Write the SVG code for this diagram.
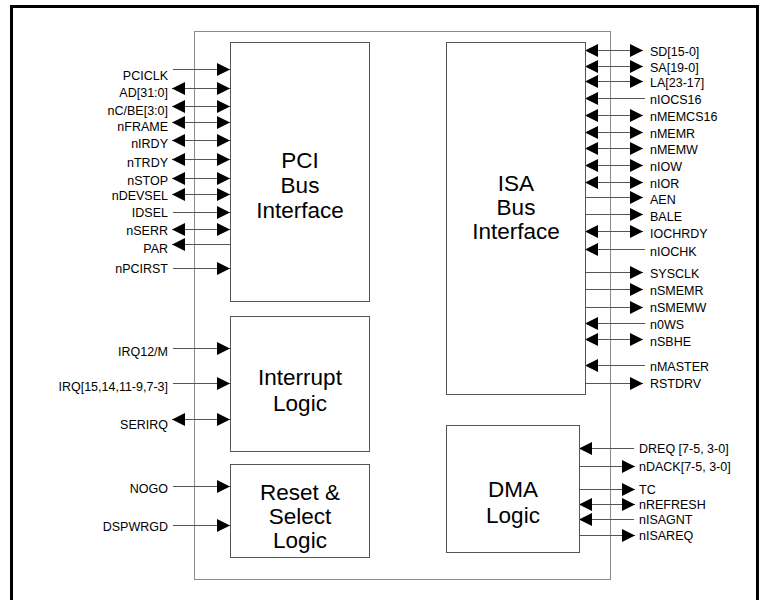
<svg xmlns="http://www.w3.org/2000/svg" width="768" height="600" viewBox="0 0 768 600">
<defs>
<style>
.frame{fill:none;stroke:#000;stroke-width:3}
.chip{fill:#fff;stroke:#8a8a8a;stroke-width:1}
.blk{fill:#fff;stroke:#555;stroke-width:1}
.title{font-family:"Liberation Sans",Arial,sans-serif;font-size:22.5px;fill:#000;text-anchor:middle}
.sig{font-family:"Liberation Sans",Arial,sans-serif;font-size:12.5px;fill:#000}
.l{text-anchor:end}
.r{text-anchor:start}
.w{stroke:#555;stroke-width:1;fill:none}
.in{marker-end:url(#ah)}
.bi{marker-start:url(#ah);marker-end:url(#ah)}
</style>
<marker id="ah" markerUnits="userSpaceOnUse" markerWidth="14" markerHeight="14" refX="13" refY="7" orient="auto-start-reverse" viewBox="0 0 14 14">
<path d="M0,0.5 L13,7 L0,13.5 Z" fill="#000"/>
</marker>
</defs>
<rect width="768" height="600" fill="#fff"/>
<rect class="frame" x="11.5" y="6.5" width="746" height="610"/>
<g id="chip"><rect class="chip" x="194.5" y="31.5" width="416" height="548"/></g>

<g id="connectors">
<!-- PCI -->
<line class="w in" x1="173" y1="69.5" x2="230" y2="69.5"/>
<line class="w bi" x1="172" y1="88.5" x2="230" y2="88.5"/>
<line class="w bi" x1="172" y1="106.5" x2="230" y2="106.5"/>
<line class="w bi" x1="172" y1="122.5" x2="230" y2="122.5"/>
<line class="w bi" x1="172" y1="140.5" x2="230" y2="140.5"/>
<line class="w bi" x1="172" y1="159.5" x2="230" y2="159.5"/>
<line class="w bi" x1="172" y1="178.5" x2="230" y2="178.5"/>
<line class="w bi" x1="172" y1="194.5" x2="230" y2="194.5"/>
<line class="w in" x1="173" y1="212.5" x2="230" y2="212.5"/>
<line class="w bi" x1="172" y1="229.5" x2="230" y2="229.5"/>
<line class="w in" x1="230" y1="244.5" x2="172" y2="244.5"/>
<line class="w in" x1="173" y1="268.5" x2="230" y2="268.5"/>
<!-- Interrupt -->
<line class="w in" x1="173" y1="348.5" x2="230" y2="348.5"/>
<line class="w in" x1="173" y1="383.5" x2="230" y2="383.5"/>
<line class="w bi" x1="172" y1="419.5" x2="230" y2="419.5"/>
<!-- Reset -->
<line class="w in" x1="173" y1="486.5" x2="230" y2="486.5"/>
<line class="w in" x1="173" y1="525.5" x2="230" y2="525.5"/>
<!-- ISA -->
<line class="w bi" x1="585" y1="50.5" x2="643" y2="50.5"/>
<line class="w bi" x1="585" y1="66.5" x2="643" y2="66.5"/>
<line class="w bi" x1="585" y1="81.5" x2="643" y2="81.5"/>
<line class="w in" x1="645" y1="98.5" x2="585" y2="98.5"/>
<line class="w bi" x1="585" y1="115.5" x2="643" y2="115.5"/>
<line class="w bi" x1="585" y1="132.5" x2="643" y2="132.5"/>
<line class="w bi" x1="585" y1="148.5" x2="643" y2="148.5"/>
<line class="w bi" x1="585" y1="165.5" x2="643" y2="165.5"/>
<line class="w bi" x1="585" y1="182.5" x2="643" y2="182.5"/>
<line class="w in" x1="585" y1="197.5" x2="643" y2="197.5"/>
<line class="w in" x1="585" y1="214.5" x2="643" y2="214.5"/>
<line class="w bi" x1="585" y1="231.5" x2="643" y2="231.5"/>
<line class="w in" x1="645" y1="249.5" x2="585" y2="249.5"/>
<line class="w in" x1="585" y1="272.5" x2="643" y2="272.5"/>
<line class="w in" x1="585" y1="289.5" x2="643" y2="289.5"/>
<line class="w in" x1="585" y1="307.5" x2="643" y2="307.5"/>
<line class="w in" x1="645" y1="323.5" x2="585" y2="323.5"/>
<line class="w bi" x1="585" y1="339.5" x2="643" y2="339.5"/>
<line class="w in" x1="645" y1="365.5" x2="585" y2="365.5"/>
<line class="w in" x1="585" y1="383.5" x2="643" y2="383.5"/>
<!-- DMA -->
<line class="w in" x1="634" y1="448.5" x2="579" y2="448.5"/>
<line class="w in" x1="579" y1="466.5" x2="635" y2="466.5"/>
<line class="w in" x1="579" y1="489.5" x2="635" y2="489.5"/>
<line class="w bi" x1="579" y1="504.5" x2="635" y2="504.5"/>
<line class="w in" x1="634" y1="519.5" x2="579" y2="519.5"/>
<line class="w in" x1="579" y1="535.5" x2="635" y2="535.5"/>
</g>

<g id="pci">
<rect class="blk" x="230.5" y="42.5" width="139" height="259"/>
<text class="title" x="300" y="168">PCI</text>
<text class="title" x="300" y="193">Bus</text>
<text class="title" x="300" y="218">Interface</text>
<g class="sig l">
<text x="168" y="80">PCICLK</text>
<text x="168" y="97">AD[31:0]</text>
<text x="168" y="115">nC/BE[3:0]</text>
<text x="168" y="131">nFRAME</text>
<text x="168" y="148">nIRDY</text>
<text x="168" y="167">nTRDY</text>
<text x="168" y="185">nSTOP</text>
<text x="168" y="200">nDEVSEL</text>
<text x="168" y="217">IDSEL</text>
<text x="168" y="235">nSERR</text>
<text x="168" y="253">PAR</text>
<text x="168" y="273">nPCIRST</text>
</g>
</g>

<g id="interrupt">
<rect class="blk" x="230.5" y="316.5" width="139" height="135"/>
<text class="title" x="300" y="385">Interrupt</text>
<text class="title" x="300" y="411">Logic</text>
<g class="sig l">
<text x="168" y="356">IRQ12/M</text>
<text x="168" y="391">IRQ[15,14,11-9,7-3]</text>
<text x="168" y="429">SERIRQ</text>
</g>
</g>

<g id="reset">
<rect class="blk" x="230.5" y="464.5" width="139" height="93"/>
<text class="title" x="300" y="500">Reset &amp;</text>
<text class="title" x="300" y="524">Select</text>
<text class="title" x="300" y="548">Logic</text>
<g class="sig l">
<text x="168" y="493">NOGO</text>
<text x="168" y="531">DSPWRGD</text>
</g>
</g>

<g id="isa">
<rect class="blk" x="446.5" y="42.5" width="139" height="352"/>
<text class="title" x="516" y="191">ISA</text>
<text class="title" x="516" y="215">Bus</text>
<text class="title" x="516" y="239">Interface</text>
<g class="sig r">
<text x="650" y="56">SD[15-0]</text>
<text x="650" y="72">SA[19-0]</text>
<text x="650" y="87">LA[23-17]</text>
<text x="650" y="104">nIOCS16</text>
<text x="650" y="121">nMEMCS16</text>
<text x="650" y="138">nMEMR</text>
<text x="650" y="154">nMEMW</text>
<text x="650" y="171">nIOW</text>
<text x="650" y="188">nIOR</text>
<text x="650" y="204">AEN</text>
<text x="650" y="221">BALE</text>
<text x="650" y="238">IOCHRDY</text>
<text x="650" y="256">nIOCHK</text>
<text x="650" y="278">SYSCLK</text>
<text x="650" y="295">nSMEMR</text>
<text x="650" y="312">nSMEMW</text>
<text x="650" y="329">n0WS</text>
<text x="650" y="346">nSBHE</text>
<text x="650" y="371">nMASTER</text>
<text x="650" y="388">RSTDRV</text>
</g>
</g>

<g id="dma">
<rect class="blk" x="446.5" y="425.5" width="133" height="127"/>
<text class="title" x="513" y="497">DMA</text>
<text class="title" x="513" y="523">Logic</text>
<g class="sig r">
<text x="639" y="453">DREQ [7-5, 3-0]</text>
<text x="639" y="471">nDACK[7-5, 3-0]</text>
<text x="639" y="494">TC</text>
<text x="639" y="509">nREFRESH</text>
<text x="639" y="524">nISAGNT</text>
<text x="639" y="540">nISAREQ</text>
</g>
</g>
</svg>
